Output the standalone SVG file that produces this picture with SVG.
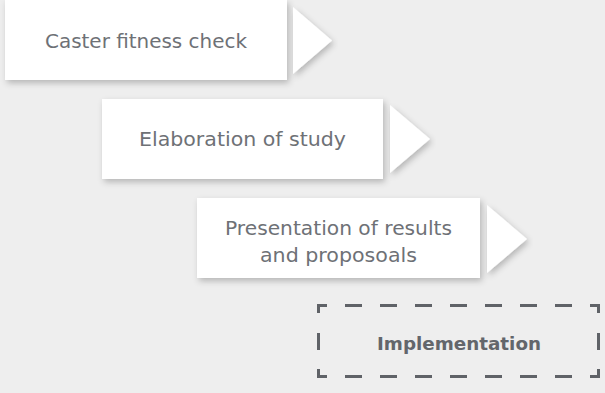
<svg xmlns="http://www.w3.org/2000/svg" width="605" height="393" viewBox="0 0 605 393">
  <defs>
    <filter id="sh" x="-10%" y="-20%" width="125%" height="150%">
      <feDropShadow dx="2" dy="3" stdDeviation="3" flood-color="#000" flood-opacity="0.24"/>
    </filter>
  </defs>
  <style>
    .box { fill: #ffffff; filter: url(#sh); }
    .lbl { font-family: "DejaVu Sans", "Liberation Sans", sans-serif; font-size: 19.5px; fill: #6e7176; text-anchor: middle; }
    .bold { font-family: "DejaVu Sans", "Liberation Sans", sans-serif; font-size: 18px; font-weight: bold; fill: #63666b; text-anchor: middle; }
    .dash { fill: none; stroke: #5f6267; stroke-width: 3; stroke-linecap: butt; }
  </style>
  <rect width="605" height="393" fill="#eeeeee"/>

  <g id="node-caster">
    <rect class="box" x="5" y="0" width="282" height="80"/>
    <polygon class="box" points="293,7 332,40.5 293,74"/>
    <text class="lbl" x="146" y="48" textLength="202" lengthAdjust="spacingAndGlyphs">Caster fitness check</text>
  </g>

  <g id="node-elaboration">
    <rect class="box" x="102" y="99" width="281" height="80"/>
    <polygon class="box" points="390,105 430,139 390,173"/>
    <text class="lbl" x="242.5" y="146" textLength="207" lengthAdjust="spacingAndGlyphs">Elaboration of study</text>
  </g>

  <g id="node-presentation">
    <rect class="box" x="197" y="198" width="283" height="80"/>
    <polygon class="box" points="487,205 527,239 487,273"/>
    <text class="lbl" x="338.5" y="235" textLength="227" lengthAdjust="spacingAndGlyphs">Presentation of results</text>
    <text class="lbl" x="338.5" y="262" textLength="157" lengthAdjust="spacingAndGlyphs">and proposoals</text>
  </g>

  <g id="node-implementation">
    <path class="dash" d="M318.5,313 V305.5 H327 M345,305.5 H362 M380,305.5 H397 M415,305.5 H432 M450,305.5 H467 M485,305.5 H502 M520,305.5 H537 M555,305.5 H572 M590,305.5 H598.5 V313"/>
    <path class="dash" d="M318.5,369 V376.5 H327 M345,376.5 H362 M380,376.5 H397 M415,376.5 H432 M450,376.5 H467 M485,376.5 H502 M520,376.5 H537 M555,376.5 H572 M590,376.5 H598.5 V369"/>
    <path class="dash" d="M318.5,333 V350 M598.5,333 V350"/>
    <text class="bold" x="459" y="350" textLength="164" lengthAdjust="spacingAndGlyphs">Implementation</text>
  </g>

  <g id="connectors"></g>
</svg>
